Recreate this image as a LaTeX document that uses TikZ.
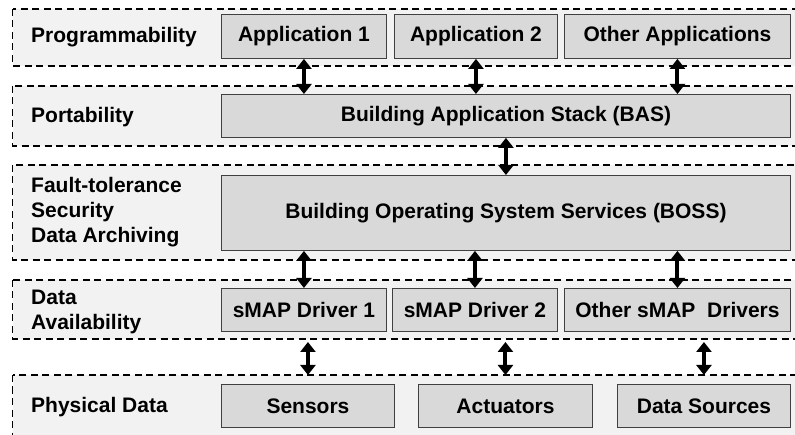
\documentclass[tikz,border=0pt]{standalone}
\usepackage{fontspec}
\setmainfont{Liberation Sans}
\usepackage{xcolor}
\definecolor{layerfill}{rgb}{0.95,0.95,0.95}
\definecolor{boxfill}{rgb}{0.85,0.85,0.85}
\definecolor{boxedge}{rgb}{0.25,0.25,0.25}
\usepackage{tikz}
\usetikzlibrary{arrows.meta}

\begin{document}
\begin{tikzpicture}[x=1pt, y=-1pt, >={Triangle[length=10pt, width=15pt]},
  layer/.style={fill=layerfill, draw=black, line width=1.2pt, dash pattern=on 7pt off 4.5pt},
  box/.style={draw=boxedge, fill=boxfill, line width=0.9pt, anchor=north west, inner sep=0pt,
    font=\fontsize{21}{25}\selectfont\bfseries},
  lbl/.style={anchor=west, align=left, inner sep=0pt, font=\fontsize{21}{25}\selectfont\bfseries},
  link/.style={<->, line width=4pt}]
\useasboundingbox (0,0) rectangle (795,435);
\clip (0,0) rectangle (795,435);
% layers
\draw[layer] (12.5,9) rectangle (820,66);
\draw[layer] (12.5,86) rectangle (820,146);
\draw[layer] (12.5,165) rectangle (820,260);
\draw[layer] (12.5,280) rectangle (820,339);
\draw[layer] (12.5,375) rectangle (820,460);
\coordinate (availbot) at (0,342);
\coordinate (phystop) at (0,375);
% layer names
\node[lbl] (prog) at (31,37) {Programmability};
\node[lbl] (port) at (31,117) {Portability};
\node[lbl] (fault) at (31,212) {Fault-tolerance\\Security\\Data Archiving};
\node[lbl] (avail) at (31,312) {Data\\Availability};
\node[lbl] (phys) at (31,407) {Physical Data};
% applications
\node[box, minimum width=165pt, minimum height=44pt] (app1) at (221,14) {Application 1};
\node[box, minimum width=163pt, minimum height=44pt] (app2) at (394,14) {Application 2};
\node[box, minimum width=226pt, minimum height=44pt] (appx) at (564,14) {Other Applications};
% stack and services
\node[box, minimum width=569pt, minimum height=43pt] (bas) at (221,94) {Building Application Stack (BAS)};
\node[box, minimum width=569pt, minimum height=75pt] (boss) at (221,175) {Building Operating System Services (BOSS)};
% drivers
\node[box, minimum width=165pt, minimum height=43pt] (drv1) at (221,288) {sMAP Driver 1};
\node[box, minimum width=165pt, minimum height=43pt] (drv2) at (392,288) {sMAP Driver 2};
\node[box, minimum width=226pt, minimum height=43pt] (drvx) at (564,288) {Other sMAP~ Drivers};
% physical data
\node[box, minimum width=173pt, minimum height=43pt] (sens) at (221,384) {Sensors};
\node[box, minimum width=174pt, minimum height=43pt] (act) at (418,384) {Actuators};
\node[box, minimum width=173pt, minimum height=43pt] (src) at (617,384) {Data Sources};
% links
\draw[link] (app1.south) -- (app1.south |- bas.north);
\draw[link] (app2.south) -- (app2.south |- bas.north);
\draw[link] (appx.south) -- (appx.south |- bas.north);
\draw[link] (bas.south) -- (boss.north);
\draw[link] (drv1.north |- boss.south) -- (drv1.north);
\draw[link] (drv2.north |- boss.south) -- (drv2.north);
\draw[link] (drvx.north |- boss.south) -- (drvx.north);
\draw[link] (sens.north |- availbot) -- (sens.north |- phystop);
\draw[link] (act.north |- availbot) -- (act.north |- phystop);
\draw[link] (src.north |- availbot) -- (src.north |- phystop);
\end{tikzpicture}
\end{document}
